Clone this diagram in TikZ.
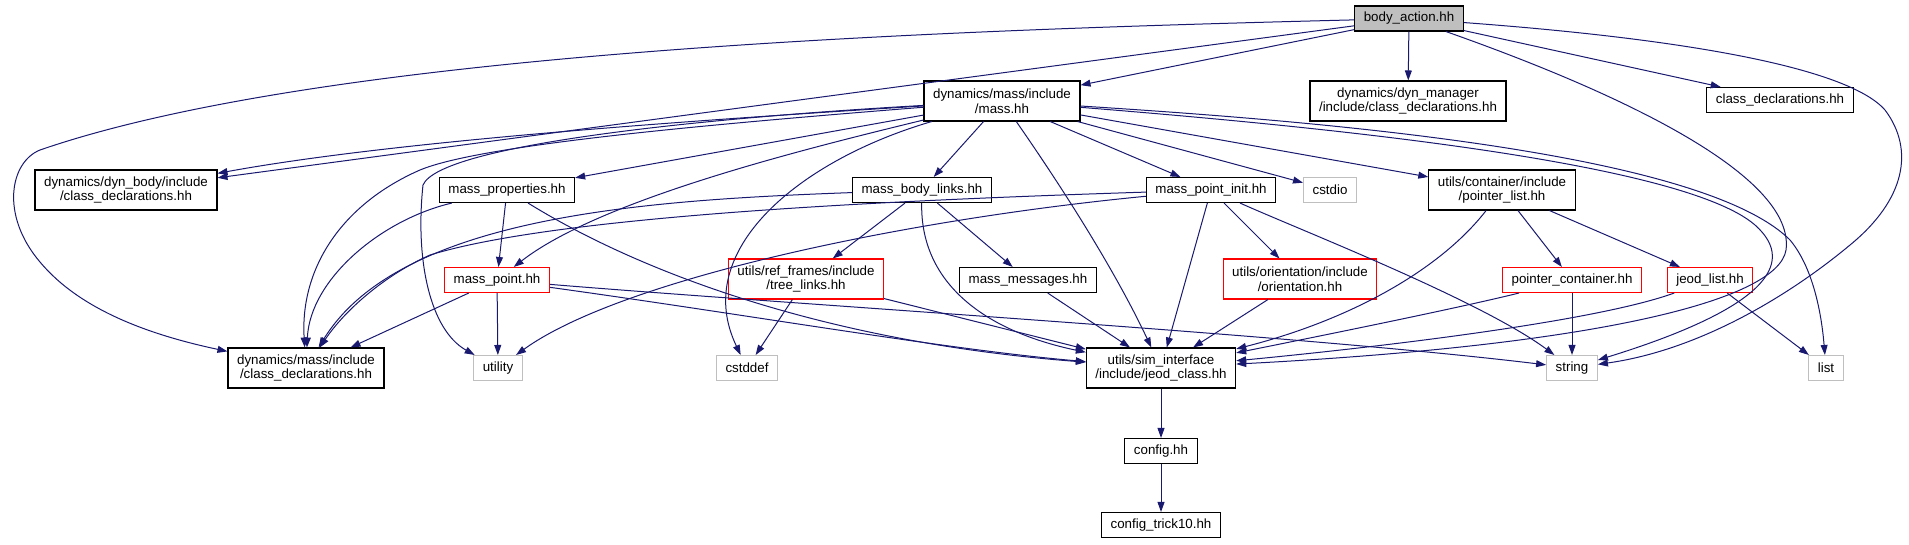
\documentclass[tikz,border=0pt]{standalone}
\usepackage{fontspec}
\setmainfont{Liberation Sans}
\usepackage{tikz}
\usetikzlibrary{arrows.meta}
\usepackage{xcolor}
\definecolor{depblue}{HTML}{191970}
\definecolor{sysgray}{HTML}{BFBFBF}

\begin{document}
\begin{tikzpicture}[x=0.75pt,y=-0.75pt,>={Triangle[length=7.5pt,width=5.2pt]},
  font=\fontsize{10}{11}\selectfont,
  file/.style={draw=black,line width=0.8pt,align=center,inner xsep=6.8pt,inner ysep=0pt,minimum height=18.75pt},
  tall/.style={minimum height=30pt},
  redfile/.style={file,draw=red},
  sysfile/.style={file,draw=sysgray},
  dep/.style={->,draw=depblue,line width=0.75pt}]
\useasboundingbox (0,0) rectangle (1909,544);
% rank 0 and 1
\node[file,fill=sysgray] (BA) at (1409,18.5) {body\_action.hh};
\node[file,tall] (MH) at (1002,101) {dynamics/mass/include\\/mass.hh};
\node[file,tall] (dynmgr) at (1408,101) {dynamics/dyn\_manager\\/include/class\_declarations.hh};
\node[file] (clsdecl) at (1780,100) {class\_declarations.hh};
% rank 2
\node[file,tall] (dynbody) at (126,190) {dynamics/dyn\_body/include\\/class\_declarations.hh};
\node[file] (massprop) at (507,190) {mass\_properties.hh};
\node[file] (bodylinks) at (922,190) {mass\_body\_links.hh};
\node[file] (pointinit) at (1211,190) {mass\_point\_init.hh};
\node[sysfile] (cstdio) at (1330,190) {cstdio};
\node[file,tall] (ptrlist) at (1502,190) {utils/container/include\\/pointer\_list.hh};
% rank 3
\node[redfile] (masspoint) at (497,280) {mass\_point.hh};
\node[redfile,tall] (treelinks) at (806,279) {utils/ref\_frames/include\\/tree\_links.hh};
\node[file] (massmsg) at (1028,280) {mass\_messages.hh};
\node[redfile,tall] (orient) at (1300,279) {utils/orientation/include\\/orientation.hh};
\node[redfile] (ptrcont) at (1572,280) {pointer\_container.hh};
\node[redfile] (jeodlist) at (1710,280) {jeod\_list.hh};
% rank 4
\node[file,tall] (dynmass) at (306,368) {dynamics/mass/include\\/class\_declarations.hh};
\node[sysfile] (utility) at (498,368) {utility};
\node[sysfile] (cstddef) at (747,368) {cstddef};
\node[file,tall] (jeodcls) at (1161,368) {utils/sim\_interface\\/include/jeod\_class.hh};
\node[sysfile] (string) at (1572,368) {string};
\node[sysfile] (list) at (1826,368) {list};
% rank 5 and 6
\node[file] (config) at (1161,451) {config.hh};
\node[file] (trick) at (1161,525) {config\_trick10.hh};

% body_action.hh
\draw[dep] (BA) -- (MH);
\draw[dep] (BA) -- (dynmgr);
\draw[dep] (BA) -- (clsdecl);
\draw[dep] (BA) -- (dynbody);
\draw[dep] (BA) .. controls (950,30) and (330,50) .. (40,150) .. controls (10,162) and (0,215) .. (40,262) .. controls (80,310) and (150,335) .. (dynmass);
\draw[dep] (BA) .. controls (1640,100) and (1795,180) .. (1786,250) .. controls (1778,300) and (1600,345) .. (jeodcls);
\draw[dep] (BA) .. controls (1700,40) and (1850,70) .. (1885,110) .. controls (1915,150) and (1905,200) .. (1850,245) .. controls (1790,295) and (1700,350) .. (string);
% mass.hh
\draw[dep] (MH) .. controls (700,120) and (400,140) .. (dynbody);
\draw[dep] (MH) .. controls (700,125) and (480,145) .. (420,170) .. controls (340,205) and (300,270) .. (dynmass);
\draw[dep] (MH) .. controls (700,118) and (440,145) .. (423,185) .. controls (415,260) and (430,330) .. (utility);
\draw[dep] (MH) -- (massprop);
\draw[dep] (MH) .. controls (800,150) and (600,200) .. (masspoint);
\draw[dep] (MH) -- (bodylinks);
\draw[dep] (MH) .. controls (800,160) and (690,250) .. (cstddef);
\draw[dep] (MH) .. controls (1050,170) and (1110,260) .. (jeodcls);
\draw[dep] (MH) -- (pointinit);
\draw[dep] (MH) -- (cstdio);
\draw[dep] (MH) -- (ptrlist);
\draw[dep] (MH) .. controls (1300,125) and (1680,160) .. (1755,225) .. controls (1800,265) and (1760,310) .. (string);
\draw[dep] (MH) .. controls (1300,120) and (1700,150) .. (1790,240) .. controls (1815,270) and (1822,320) .. (list);
% mass_properties.hh
\draw[dep] (massprop) -- (masspoint);
\draw[dep] (massprop) .. controls (380,220) and (310,280) .. (dynmass);
\draw[dep] (massprop) .. controls (620,260) and (800,340) .. (jeodcls);
% mass_body_links.hh
\draw[dep] (bodylinks) .. controls (650,200) and (400,215) .. (dynmass);
\draw[dep] (bodylinks) -- (treelinks);
\draw[dep] (bodylinks) -- (massmsg);
\draw[dep] (bodylinks) .. controls (920,280) and (980,330) .. (jeodcls);
% mass_point_init.hh
\draw[dep] (pointinit) .. controls (900,200) and (560,215) .. (430,255) .. controls (385,275) and (345,310) .. (dynmass);
\draw[dep] (pointinit) .. controls (900,220) and (620,280) .. (utility);
\draw[dep] (pointinit) -- (jeodcls);
\draw[dep] (pointinit) -- (orient);
\draw[dep] (pointinit) .. controls (1300,230) and (1480,300) .. (string);
% pointer_list.hh
\draw[dep] (ptrlist) .. controls (1440,270) and (1350,320) .. (jeodcls);
\draw[dep] (ptrlist) -- (ptrcont);
\draw[dep] (ptrlist) -- (jeodlist);
% mass_point.hh
\draw[dep] (masspoint) -- (dynmass);
\draw[dep] (masspoint) -- (utility);
\draw[dep] (masspoint) .. controls (750,315) and (950,350) .. (jeodcls);
\draw[dep] (masspoint) .. controls (800,305) and (1300,335) .. (string);
% rank 3 to rank 4
\draw[dep] (treelinks) -- (cstddef);
\draw[dep] (treelinks) -- (jeodcls);
\draw[dep] (massmsg) -- (jeodcls);
\draw[dep] (orient) -- (jeodcls);
\draw[dep] (ptrcont) .. controls (1450,310) and (1300,340) .. (jeodcls);
\draw[dep] (ptrcont) -- (string);
\draw[dep] (jeodlist) .. controls (1600,320) and (1400,345) .. (jeodcls);
\draw[dep] (jeodlist) -- (list);
% config
\draw[dep] (jeodcls) -- (config);
\draw[dep] (config) -- (trick);
\end{tikzpicture}
\end{document}
